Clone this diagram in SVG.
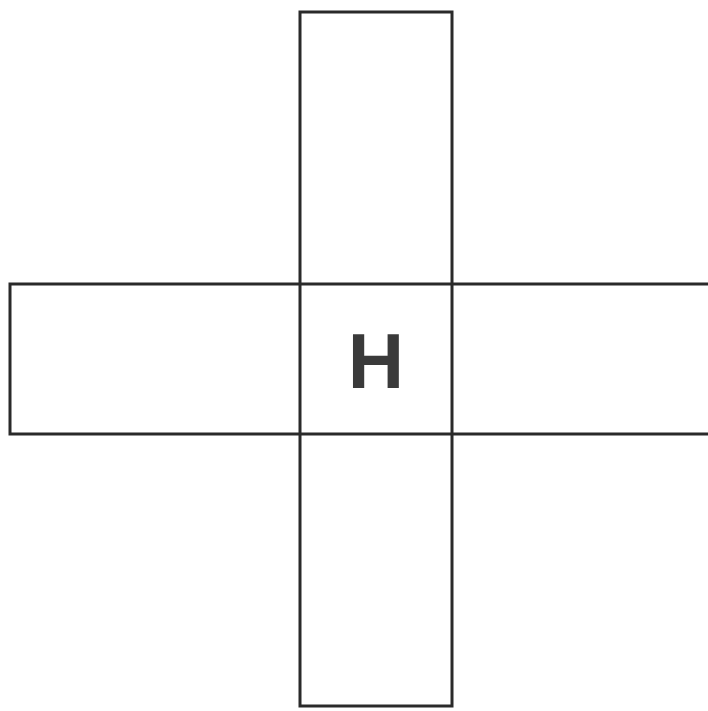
<svg xmlns="http://www.w3.org/2000/svg" width="708" height="711" viewBox="0 0 708 711">
<style>
.box{fill:none;stroke:#2a2a2a;stroke-width:3}
.lbl{font-family:"Liberation Sans",Arial,sans-serif;font-weight:bold;font-size:78px;fill:#3a3a3a;text-anchor:middle}
</style>
<rect width="708" height="711" fill="#fff"/>
<g id="vertical-bar"><rect class="box" x="300" y="12" width="152" height="694"/></g>
<g id="horizontal-bar"><path class="box" d="M710 284 H10 V434 H710"/></g>
<g id="center"><text class="lbl" x="376" y="388">H</text></g>
<g id="connectors"></g>
</svg>
